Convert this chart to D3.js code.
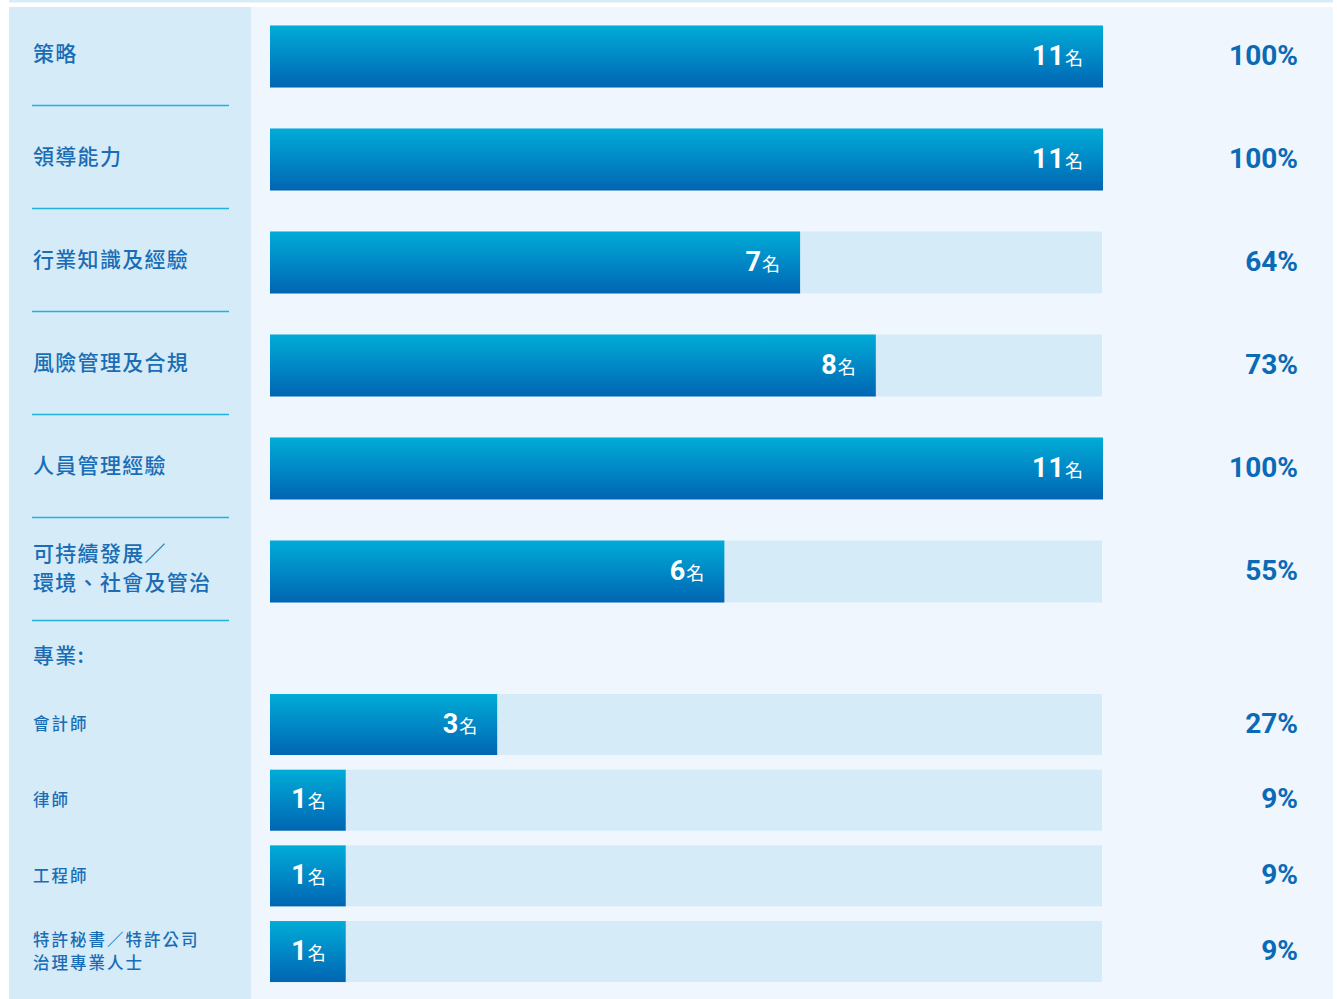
<!DOCTYPE html>
<html>
<head>
<meta charset="utf-8">
<script src="https://cdn.jsdelivr.net/npm/d3@7"></script>
<style>
  html, body { margin: 0; padding: 0; background: #ffffff; }
  svg { display: block; }
</style>
</head>
<body>
<svg id="chart" width="1337" height="999"></svg>
<script>
// Board skills matrix: number of directors with each skill (out of 11)
const totalDirectors = 11;

const coreSkills = [
  ["策略"],
  ["領導能力"],
  ["行業知識及經驗"],
  ["風險管理及合規"],
  ["人員管理經驗"],
  ["可持續發展／", "環境、社會及管治"]
];
const coreCounts = [11, 11, 7, 8, 11, 6];
const corePercents = ["100%", "100%", "64%", "73%", "100%", "55%"];

const professionHeader = "專業:";
const professions = [
  ["會計師"],
  ["律師"],
  ["工程師"],
  ["特許秘書／特許公司", "治理專業人士"]
];
const professionCounts = [3, 1, 1, 1];
const professionPercents = ["27%", "9%", "9%", "9%"];

const unitLabel = "名";

const svg = d3.select("#chart");
const cjk = "'Noto Sans CJK TC', 'Noto Sans CJK SC', sans-serif";
const num = "Roboto, 'Liberation Sans', Arial, sans-serif";
const textBlue = "#1a6db5";
const pctBlue = "#0b6ab6";

// background panels
svg.append("rect").attr("x", 9).attr("y", 0).attr("width", 1324).attr("height", 2.5).attr("fill", "#d6ecf9");
svg.append("rect").attr("x", 9).attr("y", 7).attr("width", 242).attr("height", 992).attr("fill", "#d5ebf8");
svg.append("rect").attr("x", 251).attr("y", 7).attr("width", 1082).attr("height", 992).attr("fill", "#eff6fd");

// bar gradient
const defs = svg.append("defs");
const grad = defs.append("linearGradient").attr("id", "barGrad")
  .attr("x1", 0).attr("y1", 0).attr("x2", 0).attr("y2", 1);
grad.append("stop").attr("offset", "0%").attr("stop-color", "#00acd7");
grad.append("stop").attr("offset", "55%").attr("stop-color", "#0085c4");
grad.append("stop").attr("offset", "100%").attr("stop-color", "#0065b2");

const x = d3.scaleLinear().domain([0, totalDirectors]).range([270, 1103]);

// core skill rows
const yCore = d3.scaleBand()
  .domain(d3.range(coreSkills.length))
  .range([5, 5 + 103 * coreSkills.length])
  .paddingInner(41 / 103)
  .paddingOuter(41 / 206);

// profession rows
const yProf = d3.scaleBand()
  .domain(d3.range(professions.length))
  .range([694 - 7.3, 694 - 7.3 + 75.67 * professions.length])
  .paddingInner(14.67 / 75.67)
  .paddingOuter(14.67 / 151.34);

function drawGroup(labels, counts, pcts, y, fontSize, spacing, lineGap, lift, separators) {
  const rows = svg.append("g").selectAll("g")
    .data(labels.map((l, i) => ({ label: l, count: counts[i], pct: pcts[i], i })))
    .join("g");

  // track
  rows.append("rect")
    .attr("x", x(0)).attr("y", d => y(d.i))
    .attr("width", x(totalDirectors) - x(0) - 1)
    .attr("height", y.bandwidth())
    .attr("fill", "#d5ebf8");

  // value bar
  rows.append("rect")
    .attr("x", x(0)).attr("y", d => y(d.i))
    .attr("width", d => x(d.count) - x(0))
    .attr("height", y.bandwidth())
    .attr("fill", "url(#barGrad)");

  // in-bar count label
  const t = rows.append("text")
    .attr("x", d => x(d.count) - 20)
    .attr("y", d => y(d.i) + y.bandwidth() / 2 + 8)
    .attr("text-anchor", "end")
    .attr("fill", "#ffffff");
  t.append("tspan")
    .attr("font-family", num).attr("font-weight", "bold").attr("font-size", 27)
    .attr("letter-spacing", 1)
    .text(d => d.count);
  t.append("tspan")
    .attr("font-family", cjk).attr("font-size", 18).attr("dx", 0)
    .text(unitLabel);

  // percentage
  rows.append("text")
    .attr("x", 1298)
    .attr("y", d => y(d.i) + y.bandwidth() / 2 + 8)
    .attr("text-anchor", "end")
    .attr("font-family", num).attr("font-weight", "bold").attr("font-size", 28)
    .attr("fill", pctBlue)
    .text(d => d.pct);

  // category label
  const lab = rows.append("text")
    .attr("x", 33)
    .attr("font-family", cjk).attr("font-size", fontSize)
    .attr("font-weight", 500)
    .attr("letter-spacing", spacing)
    .attr("fill", textBlue);
  lab.each(function (d) {
    const n = d.label.length;
    const cy = y(d.i) + y.bandwidth() / 2 - lift;
    d3.select(this).selectAll("tspan").data(d.label).join("tspan")
      .attr("x", 33)
      .attr("y", (s, k) => cy + (k - (n - 1) / 2) * lineGap + fontSize * 0.35)
      .text(s => s);
  });

  if (separators) {
    rows.append("line")
      .attr("x1", 32).attr("x2", 229)
      .attr("y1", d => y(d.i) + y.bandwidth() + 18)
      .attr("y2", d => y(d.i) + y.bandwidth() + 18)
      .attr("stroke", "#22b2e0").attr("stroke-width", 1.6);
  }
}

drawGroup(coreSkills, coreCounts, corePercents, yCore, 21, 1.3, 29, 3, true);
drawGroup(professions, professionCounts, professionPercents, yProf, 16.5, 2, 22.5, 0, false);

svg.append("text")
  .attr("x", 33).attr("y", 663)
  .attr("font-family", cjk).attr("font-size", 21)
  .attr("font-weight", 500)
  .attr("letter-spacing", 1.3)
  .attr("fill", textBlue)
  .text(professionHeader);
</script>
</body>
</html>
